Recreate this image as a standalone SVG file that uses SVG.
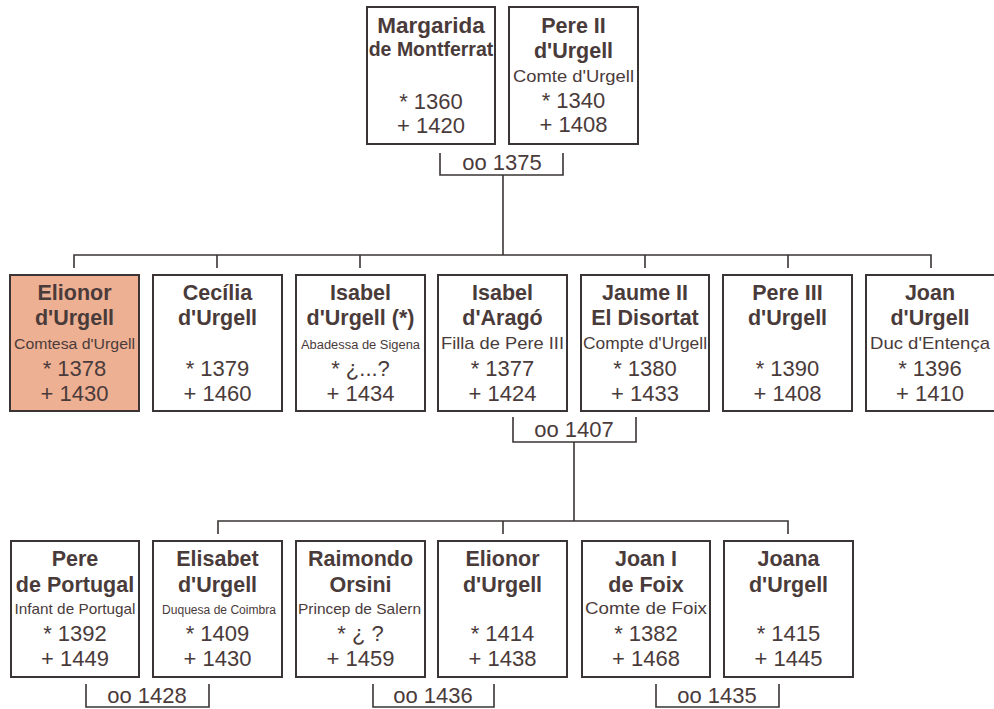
<svg xmlns="http://www.w3.org/2000/svg" width="994" height="709" viewBox="0 0 994 709">
<style>
  .box { fill: #ffffff; stroke: #3b3434; stroke-width: 2; }
  .hl { fill: #eeb093; }
  .t { font-family: "Liberation Sans", Arial, sans-serif; fill: #4a3b3b; text-anchor: middle; }
  .n { font-weight: bold; font-size: 21.5px; }
  .y { font-size: 22px; }
  .m { font-size: 22px; }
  .conn { fill: none; stroke: #3b3434; stroke-width: 1.6; }
</style>
<rect x="0" y="0" width="994" height="709" fill="#ffffff"/>

<g id="connectors">
  <path class="conn" d="M440,153 V175 H563 V153"/>
  <path class="conn" d="M503,175 V255"/>
  <path class="conn" d="M74,268 V255 H931 V268"/>
  <path class="conn" d="M217,255 V268 M360,255 V268 M645,255 V268 M788,255 V268"/>
  <path class="conn" d="M513,417 V442 H636 V417"/>
  <path class="conn" d="M574,442 V521"/>
  <path class="conn" d="M218,534 V521 H788 V534"/>
  <path class="conn" d="M503,521 V534"/>
  <path class="conn" d="M86,684 V707 H209 V684"/>
  <path class="conn" d="M373,684 V707 H494 V684"/>
  <path class="conn" d="M656,684 V707 H779 V684"/>
  <text class="t m" x="502" y="170">oo 1375</text>
  <text class="t m" x="574" y="437">oo 1407</text>
  <text class="t m" x="147" y="703">oo 1428</text>
  <text class="t m" x="433" y="703">oo 1436</text>
  <text class="t m" x="717" y="703">oo 1435</text>
</g>

<g id="margarida">
  <rect class="box" x="367" y="7" width="128" height="137"/>
  <text class="t n" x="431" y="33" style="font-size:22.5px">Margarida</text>
  <text class="t n" x="431" y="56" style="font-size:19.5px">de Montferrat</text>
  <text class="t y" x="431" y="109">* 1360</text>
  <text class="t y" x="431" y="133">+ 1420</text>
</g>
<g id="pere2">
  <rect class="box" x="509" y="7" width="129" height="137"/>
  <text class="t n" x="573.5" y="33">Pere II</text>
  <text class="t n" x="573.5" y="58">d'Urgell</text>
  <text class="t" x="573.5" y="82" font-size="17" textLength="121" lengthAdjust="spacingAndGlyphs">Comte d'Urgell</text>
  <text class="t y" x="573.5" y="108">* 1340</text>
  <text class="t y" x="573.5" y="132">+ 1408</text>
</g>

<g id="elionor1">
  <rect class="box hl" x="10" y="275" width="129" height="136"/>
  <text class="t n" x="74.5" y="300">Elionor</text>
  <text class="t n" x="74.5" y="325">d'Urgell</text>
  <text class="t" x="74.5" y="349" font-size="15.5" textLength="121" lengthAdjust="spacingAndGlyphs">Comtesa d'Urgell</text>
  <text class="t y" x="74.5" y="376">* 1378</text>
  <text class="t y" x="74.5" y="401">+ 1430</text>
</g>
<g id="cecilia">
  <rect class="box" x="153" y="275" width="129" height="136"/>
  <text class="t n" x="217.5" y="300">Cecília</text>
  <text class="t n" x="217.5" y="325">d'Urgell</text>
  <text class="t y" x="217.5" y="376">* 1379</text>
  <text class="t y" x="217.5" y="401">+ 1460</text>
</g>
<g id="isabel-urgell">
  <rect class="box" x="296" y="275" width="129" height="136"/>
  <text class="t n" x="360.5" y="300">Isabel</text>
  <text class="t n" x="360.5" y="325">d'Urgell (*)</text>
  <text class="t" x="360.5" y="349" font-size="12.5" textLength="119" lengthAdjust="spacingAndGlyphs">Abadessa de Sigena</text>
  <text class="t y" x="360.5" y="376">* ¿...?</text>
  <text class="t y" x="360.5" y="401">+ 1434</text>
</g>
<g id="isabel-arago">
  <rect class="box" x="438" y="275" width="129" height="136"/>
  <text class="t n" x="502.5" y="300">Isabel</text>
  <text class="t n" x="502.5" y="325">d'Aragó</text>
  <text class="t" x="502.5" y="349" font-size="17" textLength="123" lengthAdjust="spacingAndGlyphs">Filla de Pere III</text>
  <text class="t y" x="502.5" y="376">* 1377</text>
  <text class="t y" x="502.5" y="401">+ 1424</text>
</g>
<g id="jaume2">
  <rect class="box" x="581" y="275" width="128" height="136"/>
  <text class="t n" x="645" y="300">Jaume II</text>
  <text class="t n" x="645" y="325">El Disortat</text>
  <text class="t" x="645" y="349" font-size="16.5" textLength="124" lengthAdjust="spacingAndGlyphs">Compte d'Urgell</text>
  <text class="t y" x="645" y="376">* 1380</text>
  <text class="t y" x="645" y="401">+ 1433</text>
</g>
<g id="pere3">
  <rect class="box" x="723" y="275" width="129" height="136"/>
  <text class="t n" x="787.5" y="300">Pere III</text>
  <text class="t n" x="787.5" y="325">d'Urgell</text>
  <text class="t y" x="787.5" y="376">* 1390</text>
  <text class="t y" x="787.5" y="401">+ 1408</text>
</g>
<g id="joan">
  <rect class="box" x="866" y="275" width="129" height="136"/>
  <text class="t n" x="930" y="300">Joan</text>
  <text class="t n" x="930" y="325">d'Urgell</text>
  <text class="t" x="930" y="349" font-size="17" textLength="120" lengthAdjust="spacingAndGlyphs">Duc d'Entença</text>
  <text class="t y" x="930" y="376">* 1396</text>
  <text class="t y" x="930" y="401">+ 1410</text>
</g>

<g id="pere-portugal">
  <rect class="box" x="11" y="541" width="128" height="136"/>
  <text class="t n" x="75" y="566">Pere</text>
  <text class="t n" x="75" y="592">de Portugal</text>
  <text class="t" x="75" y="614" font-size="15" textLength="121" lengthAdjust="spacingAndGlyphs">Infant de Portugal</text>
  <text class="t y" x="75" y="641">* 1392</text>
  <text class="t y" x="75" y="666">+ 1449</text>
</g>
<g id="elisabet">
  <rect class="box" x="153" y="541" width="129" height="136"/>
  <text class="t n" x="217.5" y="566">Elisabet</text>
  <text class="t n" x="217.5" y="592">d'Urgell</text>
  <text class="t" x="219" y="614" font-size="12" textLength="114" lengthAdjust="spacingAndGlyphs">Duquesa de Coimbra</text>
  <text class="t y" x="217.5" y="641">* 1409</text>
  <text class="t y" x="217.5" y="666">+ 1430</text>
</g>
<g id="raimondo">
  <rect class="box" x="296" y="541" width="129" height="136"/>
  <text class="t n" x="360.5" y="566">Raimondo</text>
  <text class="t n" x="360.5" y="592">Orsini</text>
  <text class="t" x="359.5" y="614" font-size="15" textLength="123" lengthAdjust="spacingAndGlyphs">Princep de Salern</text>
  <text class="t y" x="360.5" y="641">* ¿ ?</text>
  <text class="t y" x="360.5" y="666">+ 1459</text>
</g>
<g id="elionor2">
  <rect class="box" x="438" y="541" width="129" height="136"/>
  <text class="t n" x="502.5" y="566">Elionor</text>
  <text class="t n" x="502.5" y="592">d'Urgell</text>
  <text class="t y" x="502.5" y="641">* 1414</text>
  <text class="t y" x="502.5" y="666">+ 1438</text>
</g>
<g id="joan-foix">
  <rect class="box" x="582" y="541" width="128" height="136"/>
  <text class="t n" x="646" y="566">Joan I</text>
  <text class="t n" x="646" y="592">de Foix</text>
  <text class="t" x="646" y="614" font-size="16.5" textLength="122" lengthAdjust="spacingAndGlyphs">Comte de Foix</text>
  <text class="t y" x="646" y="641">* 1382</text>
  <text class="t y" x="646" y="666">+ 1468</text>
</g>
<g id="joana">
  <rect class="box" x="724" y="541" width="129" height="136"/>
  <text class="t n" x="788.5" y="566">Joana</text>
  <text class="t n" x="788.5" y="592">d'Urgell</text>
  <text class="t y" x="788.5" y="641">* 1415</text>
  <text class="t y" x="788.5" y="666">+ 1445</text>
</g>
</svg>
